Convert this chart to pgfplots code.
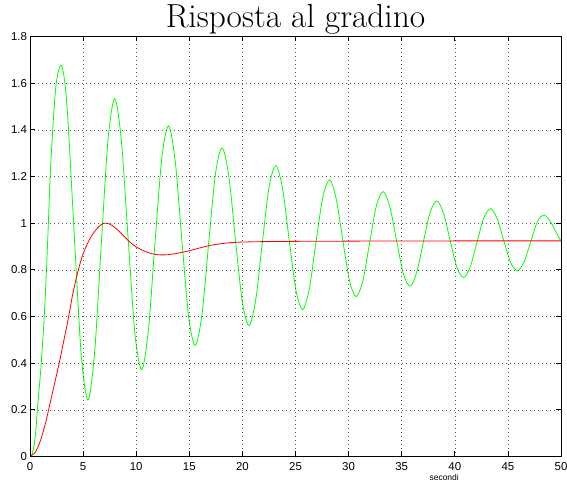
\documentclass[border=0pt]{standalone}
\usepackage{fontspec}
\usepackage{pgfplots}
\pgfplotsset{compat=1.18}
\newfontfamily\hv{Liberation Sans}
\begin{document}
\begin{tikzpicture}
\begin{axis}[
  scale only axis, width=531bp, height=420bp,
  xmin=0, xmax=50, ymin=0, ymax=1.8,
  xtick={0,5,10,15,20,25,30,35,40,45,50},
  ytick={0,0.2,0.4,0.6,0.8,1,1.2,1.4,1.6,1.8},
  yticklabels={0,0.2,0.4,0.6,0.8,1,1.2,1.4,1.6,1.8},
  tick align=inside, xtick pos=both, ytick pos=both,
  major tick length=5bp,
  axis line style={line width=1bp},
  tick style={line width=0.8bp, black},
  grid=major,
  grid style={black!65, line width=0.6bp, dash pattern=on 0.7bp off 3.3bp},
  /pgf/number format/assume math mode=true,
  ticklabel style={font=\hv\fontsize{11.5}{13}\selectfont},
  xticklabel style={yshift=-2.5bp},
  yticklabel style={xshift=0.5bp},
  title={Risposta al gradino},
  title style={at={(axis description cs:0.5,1)}, anchor=base, yshift=3.2bp, inner sep=0pt, font=\fontsize{33.5}{38}\selectfont},
  xlabel={secondi},
  xlabel style={at={(axis description cs:0.78,0)}, anchor=north, yshift=-17.5bp, inner sep=0pt, font=\hv\fontsize{8.5}{10}\selectfont},
  axis on top,
]
\addplot[color={rgb,1:red,0;green,1;blue,0}, line width=0.8bp, smooth] coordinates {
(0,0) (0.2,0.012) (0.4,0.05) (0.55,0.11) (0.69,0.2) (0.88,0.3) (1.06,0.4) (1.34,0.6) (1.55,0.8) (1.73,1.0) (1.9,1.2) (2.14,1.4) (2.4,1.57) (2.64,1.645) (2.94,1.677) (3.25,1.613)
(3.572,1.442) (4.203,0.922) (4.835,0.429) (5.467,0.2425) (6.099,0.454) (6.730,0.922) (7.362,1.366)
(7.994,1.534) (8.625,1.343) (9.257,0.922) (9.889,0.522) (10.52,0.372) (11.15,0.543) (11.78,0.922) (12.42,1.282)
(13.05,1.417) (13.68,1.263) (14.31,0.922) (14.94,0.598) (15.57,0.476) (16.21,0.615) (16.84,0.922) (17.47,1.213)
(18.10,1.323) (18.73,1.198) (19.36,0.922) (20.00,0.660) (20.63,0.561) (21.26,0.673) (21.89,0.922) (22.52,1.158)
(23.15,1.247) (23.79,1.146) (24.42,0.922) (25.05,0.710) (25.68,0.6295) (26.31,0.7205) (26.94,0.922) (27.58,1.113)
(28.21,1.185) (28.84,1.103) (29.47,0.922) (30.10,0.750) (30.73,0.685) (31.37,0.759) (32.00,0.922) (32.63,1.077)
(33.26,1.135) (33.89,1.069) (34.53,0.922) (35.16,0.783) (35.79,0.730) (36.42,0.790) (37.05,0.922) (37.68,1.047)
(38.32,1.095) (38.95,1.041) (39.58,0.922) (40.21,0.809) (40.84,0.767) (41.47,0.815) (42.11,0.922) (42.74,1.024)
(43.37,1.062) (44.00,1.018) (44.63,0.922) (45.26,0.831) (45.90,0.796) (46.53,0.835) (47.16,0.922) (47.79,1.008)
(48.42,1.035) (49.05,1.003) (49.6,0.955) (50,0.924)
};
\addplot[color={rgb,1:red,1;green,0;blue,0}, line width=0.8bp, smooth] coordinates {
(0,0) (0.5,0.018) (1.0,0.07) (1.5,0.15) (1.75,0.2) (2.25,0.3) (2.75,0.4) (3.2,0.5) (3.6,0.59) (4.0,0.69) (4.44,0.78) (4.9,0.855) (5.4,0.912) (5.95,0.956) (6.5,0.986) (7.0,1.0) (7.5,0.996) (8.0,0.981) (8.5,0.96) (9.0,0.937) (9.5,0.915) (10.0,0.898) (10.6,0.884) (11.0,0.876) (11.5,0.869) (12.0,0.865) (12.5,0.864) (13.0,0.865) (13.5,0.868) (14.0,0.872) (15.0,0.882) (16.0,0.894) (17.0,0.905) (18.0,0.912) (19.0,0.917) (20.0,0.919) (22,0.921) (25,0.922) (30,0.923) (40,0.924) (50,0.924)
};
\end{axis}
\pgfresetboundingbox
\path ([shift={(-30bp,-26.5bp)}]current axis.south west) rectangle ([shift={(6bp,36.5bp)}]current axis.north east);
\end{tikzpicture}
\end{document}
